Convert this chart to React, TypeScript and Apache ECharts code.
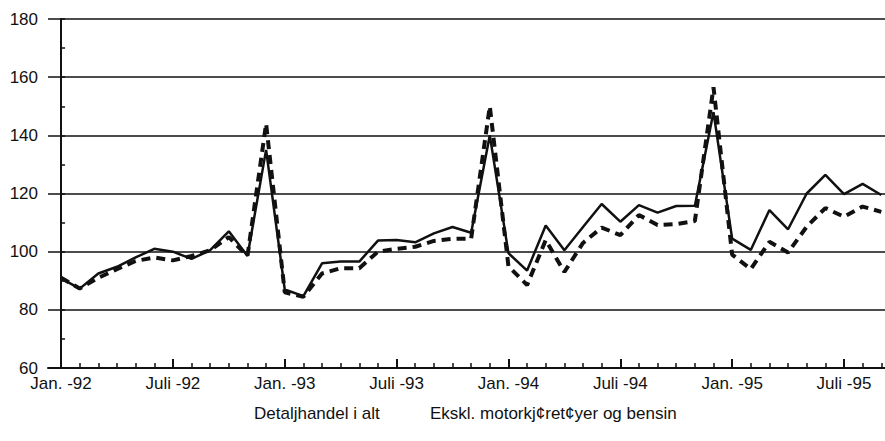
import React, { useEffect, useRef } from "react";
import * as echarts from "echarts";

const tickLabels = ["Jan. -92", "Juli -92", "Jan. -93", "Juli -93", "Jan. -94", "Juli -94", "Jan. -95", "Juli -95"];
const seriesNames = ["Detaljhandel i alt", "Ekskl. motorkj¢ret¢yer og bensin"];

// Monthly index values, Jan. 1992 .. Sep. 1995
const total = [
  90.8, 87.3, 92.5, 94.8, 98, 101, 100, 97.5, 100.5, 107, 98.5, 135,
  87, 84.7, 96, 96.6, 96.6, 103.8, 104, 103.2, 106.3, 108.5, 106.5, 140,
  99.5, 93.5, 109, 100.5, 108.5, 116.4, 110.3, 116, 113.4, 115.7, 115.8, 148,
  104.5, 100.6, 114.3, 107.7, 120, 126.4, 119.8, 123.3, 119.5,
];
const exclMotor = [
  91, 87.3, 91, 94, 96.8, 98, 97, 98.5, 100.5, 105, 98.5, 144,
  86, 84.5, 92.5, 94.3, 94.3, 100, 101, 101.7, 103.7, 104.4, 104.5, 150,
  95, 88.5, 104, 93, 103, 108.3, 105.7, 112.6, 109.2, 109.5, 110.5, 156.5,
  99, 94, 103.4, 99.7, 108.6, 115, 112, 115.5, 113.7,
];

const FONT = "'Liberation Sans', Arial, sans-serif";
const INK = "#111";

export default function App() {
  const ref = useRef<HTMLDivElement>(null);
  useEffect(() => {
    if (!ref.current) return;
    const chart = echarts.init(ref.current, null, { renderer: "svg" });
    const majorTicks = tickLabels.map((_, i) => i * 6);
    const monthTicks = total.map((_, i) => i);
    const xMin = -0.7;
    const xMax = 44.2;
    chart.setOption({
      animation: false,
      backgroundColor: "#fff",
      grid: { left: 48, right: 0, top: 19, bottom: 73, containLabel: false },
      legend: [
        {
          data: [seriesNames[0]],
          left: 244,
          top: 400,
          icon: "none",
          itemWidth: 0,
          itemHeight: 0,
          textStyle: { fontFamily: FONT, fontSize: 17, color: INK },
        },
        {
          data: [seriesNames[1]],
          left: 420,
          top: 400,
          icon: "none",
          itemWidth: 0,
          itemHeight: 0,
          textStyle: { fontFamily: FONT, fontSize: 17, color: INK },
        },
      ],
      xAxis: [
        {
          type: "value",
          min: xMin,
          max: xMax,
          axisLine: { show: true, lineStyle: { color: INK, width: 2 } },
          axisTick: { show: true, inside: true, length: 9, customValues: majorTicks, lineStyle: { color: INK, width: 2 } },
          axisLabel: {
            show: true,
            customValues: majorTicks,
            margin: 8,
            lineHeight: 15,
            color: INK,
            fontFamily: FONT,
            fontSize: 17,
            formatter: (v: number) => tickLabels[Math.round(v / 6)] ?? "",
          },
          splitLine: { show: false },
        },
        {
          type: "value",
          min: xMin,
          max: xMax,
          position: "bottom",
          axisLine: { show: false },
          axisTick: { show: true, inside: true, length: 5, customValues: monthTicks, lineStyle: { color: INK, width: 1.5 } },
          axisLabel: { show: false },
          splitLine: { show: false },
        },
      ],
      yAxis: {
        type: "value",
        min: 60,
        max: 180,
        interval: 20,
        axisLine: { show: true, lineStyle: { color: INK, width: 2 } },
        axisTick: { show: true, inside: true, length: 4, lineStyle: { color: INK, width: 1.5 } },
        minorTick: { show: true, splitNumber: 2, length: 4, lineStyle: { color: INK, width: 1.5 } },
        axisLabel: { color: INK, fontFamily: FONT, fontSize: 17, lineHeight: 14, margin: 10 },
        splitLine: { show: true, lineStyle: { color: INK, width: 1.5 } },
      },
      series: [
        {
          name: seriesNames[1],
          type: "line",
          data: exclMotor.map((v, i) => [i, v]),
          showSymbol: false,
          symbol: "none",
          lineStyle: { color: INK, width: 4, type: [9, 6] },
          itemStyle: { color: INK },
          z: 3,
        },
        {
          name: seriesNames[0],
          type: "line",
          data: total.map((v, i) => [i, v]),
          showSymbol: false,
          symbol: "none",
          lineStyle: { color: INK, width: 2.5 },
          itemStyle: { color: INK },
          z: 2,
        },
      ],
    });
    return () => chart.dispose();
  }, []);
  return <div ref={ref} style={{ width: 885, height: 441, position: "absolute", left: 0, top: 0 }} />;
}
